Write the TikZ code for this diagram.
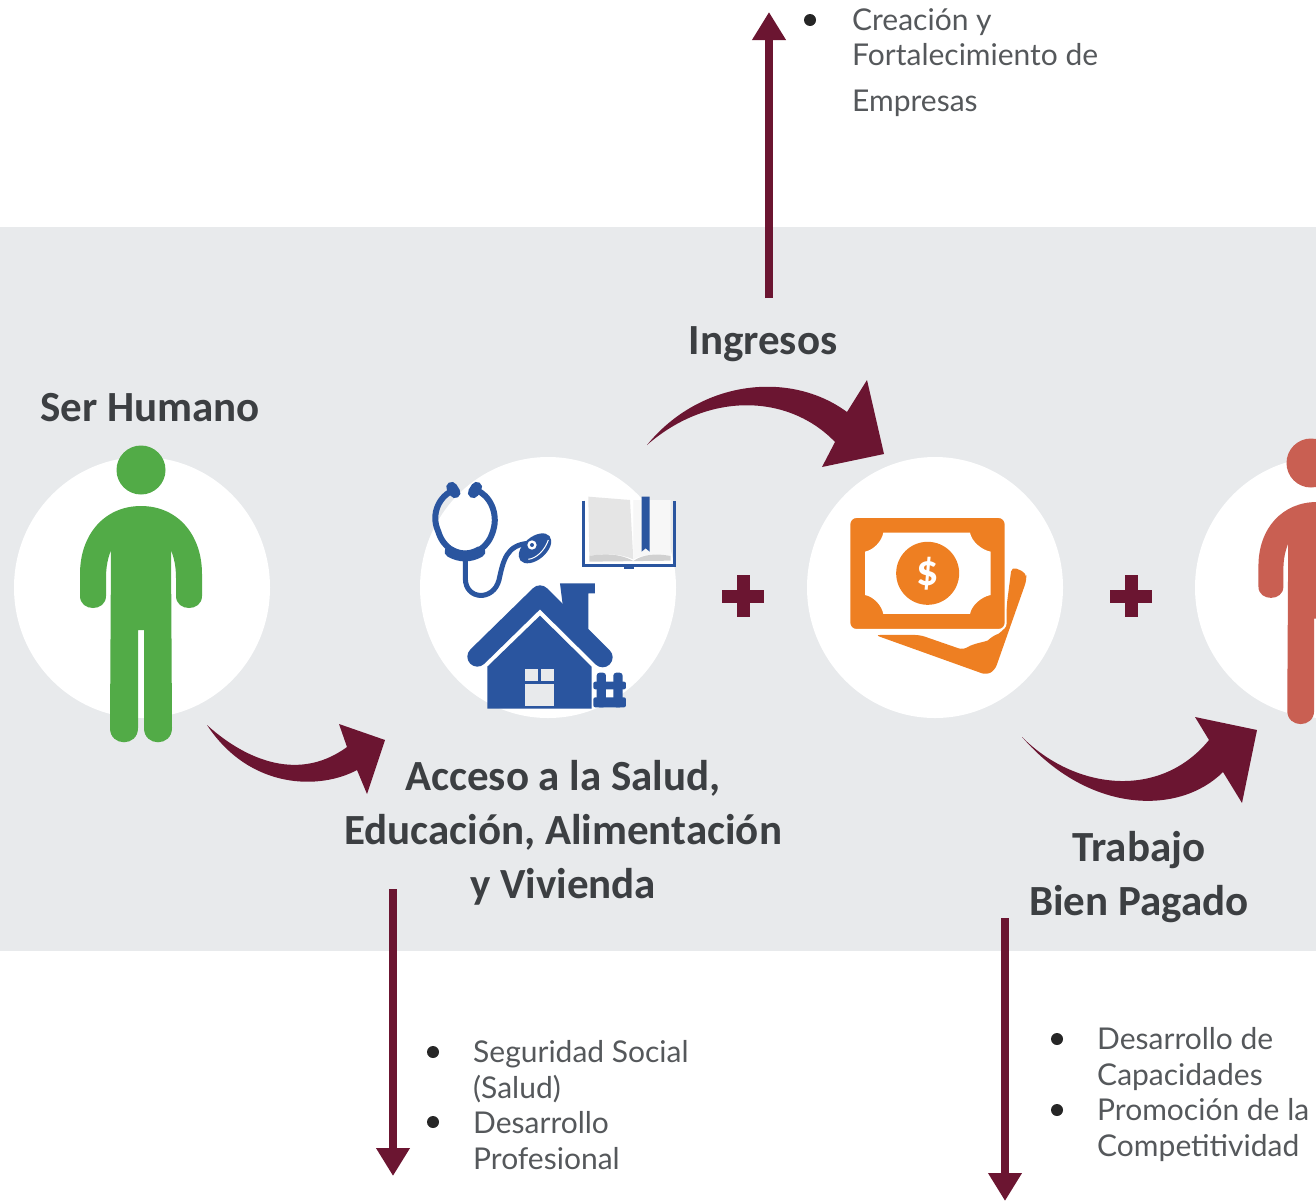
\documentclass[tikz,border=0pt]{standalone}
\usepackage{fontspec}
\setmainfont{Carlito}
\newfontfamily\listfont{Lato}
\usetikzlibrary{arrows.meta,shapes.geometric}
\definecolor{bandgray}{HTML}{E8EAEC}
\definecolor{wine}{HTML}{6B1531}
\definecolor{humangreen}{HTML}{52AB47}
\definecolor{humanred}{HTML}{C95F52}
\definecolor{homeblue}{HTML}{2A559F}
\definecolor{cashorange}{HTML}{EE7F22}
\definecolor{labelgray}{HTML}{3C3F42}
\definecolor{listgray}{HTML}{55585B}
% body of a person, centred on x=0, top at y=0
\newcommand{\humanbody}{
(0,0) .. controls (-36,0) and (-61,28) .. (-61,68)
-- (-61,90) .. controls (-61,106) and (-35,106) .. (-35,90)
-- (-35,72) .. controls (-35,60) and (-33,52) .. (-30,44)
-- (-31,222) .. controls (-31,241) and (-3,241) .. (-3,222)
-- (-3,124) -- (3,124) -- (3,222) .. controls (3,241) and (31,241) .. (31,222)
-- (30,44) .. controls (33,52) and (35,60) .. (35,72)
-- (35,90) .. controls (35,106) and (61,106) .. (61,90)
-- (61,68) .. controls (61,28) and (36,0) .. (0,0) -- cycle}
\newcommand{\plusmark}[2]{
\fill[wine] (#1-21,#2-6.5) rectangle (#1+21,#2+6.5);
\fill[wine] (#1-6.5,#2-21) rectangle (#1+6.5,#2+21);}
\begin{document}
\begin{tikzpicture}[x=1pt,y=-1pt]
\tikzstyle{disc}=[ellipse, fill=white, minimum width=256pt, minimum height=261pt, inner sep=0pt]
\tikzstyle{head}=[circle, minimum size=49pt, inner sep=0pt]
\tikzstyle{title}=[text=labelgray, font=\bfseries\fontsize{43}{54}\selectfont, align=center, inner sep=0pt]
\tikzstyle{listing}=[text=listgray, anchor=north west, align=left, inner sep=0pt, font=\listfont\fontsize{30}{35.4}\selectfont]
\tikzstyle{dot}=[circle, fill=black!85, minimum size=12pt, inner sep=0pt]
\tikzstyle{bar}=[wine, line width=8pt, -{Triangle[length=28pt,width=32pt]}]
\useasboundingbox (0,0) rectangle (1316,1202);
\fill[bandgray] (0,227) rectangle (1316,951);

\node[disc] (humanDisc) at (142,587.5) {};
\node[disc] (homeDisc) at (548,587.5) {};
\node[disc] (cashDisc) at (935,587.5) {};
\node[disc] (workDisc) at (1323,587.5) {};

% green person
\node[head, fill=humangreen] (greenHead) at (141,470) {};
\fill[humangreen, shift={(141,506)}] \humanbody;

% red person
\node[head, fill=humanred] (redHead) at (1311,463) {};
\fill[humanred, shift={(1317,502)}, yscale=0.94, xscale=0.96] \humanbody;

% health, book, house
\begin{scope}[shift={(400,450)},x=0.3333pt,y=-0.3333pt]
\draw[homeblue, line width=6pt] (163,120) .. controls (120,135) and (90,190) .. (115,245)
.. controls (130,295) and (170,312) .. (196,312) .. controls (225,312) and (265,295) .. (280,240)
.. controls (295,190) and (270,135) .. (228,120);
\draw[homeblue, line width=11pt, line cap=round] (150,305) .. controls (180,322) and (210,322) .. (240,305);
\draw[homeblue, line width=5pt] (196,312) -- (196,385) .. controls (196,450) and (280,455) .. (297,390)
.. controls (310,330) and (320,285) .. (385,280);
\draw[homeblue, line width=11pt, line cap=round] (155,112) -- (165,128);
\draw[homeblue, line width=11pt, line cap=round] (230,112) -- (220,128);
\fill[homeblue, rotate around={40:(405,295)}] (405,295) ellipse (57 and 34);
\fill[white] (396,285) circle (14);
\fill[homeblue] (396,285) circle (6);
\draw[white, line width=1pt] (385,328) .. controls (410,325) and (435,300) .. (445,270);
% book
\draw[homeblue, line width=3pt] (551,152) -- (551,346) -- (825,346) -- (825,152);
\fill[homeblue] (672,346) rectangle (702,358);
\fill[black!10] (565,140) -- (690,150) -- (700,328) .. controls (660,310) and (610,310) .. (568,318) -- cycle;
\fill[black!3] (700,328) -- (700,150) -- (812,150) -- (812,318) .. controls (770,310) and (730,312) .. (700,328) -- cycle;
\fill[black!18] (568,318) .. controls (610,310) and (660,310) .. (700,333) .. controls (730,312) and (770,310) .. (812,318) -- (812,332) -- (568,335) -- cycle;
\fill[homeblue] (725,140) -- (749,140) -- (749,305) -- (737,295) -- (725,305) -- cycle;
% house
\fill[homeblue] (480,400) -- (585,400) -- (585,430) -- (565,430) -- (565,560) -- (490,480) -- cycle;
\draw[homeblue, line width=20pt, line cap=round, line join=round] (232,620) -- (420,436) -- (608,622);
\fill[homeblue] (262,650) -- (420,497) -- (575,650) -- (575,776) -- (262,776) -- cycle;
\fill[bandgray] (375,657) rectangle (415,692);
\fill[bandgray] (423,657) rectangle (462,692);
\fill[bandgray] (375,702) rectangle (462,768);
\fill[homeblue, rounded corners=3pt] (590,668) rectangle (618,772);
\fill[homeblue, rounded corners=3pt] (640,668) rectangle (668,772);
\fill[homeblue, rounded corners=2pt] (580,695) rectangle (678,718);
\fill[homeblue, rounded corners=2pt] (580,742) rectangle (678,772);
\end{scope}

% money
\begin{scope}[shift={(800,370)},x=0.3333pt,y=-0.3333pt]
\fill[cashorange, rounded corners=5pt] (635,590) -- (678,608) -- (680,630) -- (585,900) -- (560,915) -- (225,795) -- (360,795) -- (490,840)
.. controls (520,820) and (560,815) .. (575,800) -- (610,785) -- cycle;
\fill[cashorange, draw=white, line width=2pt, rounded corners=7pt] (148,441) rectangle (617,780);
\fill[white] (250,488) -- (510,488) .. controls (515,515) and (545,540) .. (572,545) -- (572,675)
.. controls (545,680) and (515,705) .. (510,732) -- (250,732) .. controls (245,705) and (220,680) .. (195,675)
-- (195,545) .. controls (220,540) and (245,515) .. (250,488) -- cycle;
\node[circle, fill=cashorange, minimum size=63pt, inner sep=0pt, text=white, font=\bfseries\fontsize{44}{44}\selectfont] (dollar) at (383,610) {\$};
\end{scope}

\plusmark{743}{596}
\plusmark{1131}{596}

% curved arrows
\fill[wine] (207,725) .. controls (240,755) and (295,785) .. (347,747) -- (339,724) -- (385,740) -- (367,794) -- (357,770)
.. controls (320,790) and (250,790) .. (207,725) -- cycle;
\fill[wine] (647,445) .. controls (700,380) and (790,370) .. (847,412) -- (867,380) -- (884,454) -- (822,467) -- (835,442)
.. controls (790,395) and (710,390) .. (647,445) -- cycle;
\fill[wine] (1022,737) .. controls (1075,790) and (1160,800) .. (1209,740) -- (1195,717) -- (1257,730) -- (1242,803) -- (1223,772)
.. controls (1180,815) and (1090,815) .. (1022,737) -- cycle;

% labels
\node[title] (serHumano) at (150,408) {Ser Humano};
\node[title] (ingresos) at (763,344) {Ingresos};
\node[title] (acceso) at (563,833) {Acceso a la Salud,\\Educación, Alimentación\\y Vivienda};
\node[title] (trabajo) at (1139,877) {Trabajo\\Bien Pagado};

% straight arrows
\coordinate (ingresosFoot) at (769,298);
\coordinate (ingresosTip) at (769,12);
\coordinate (accesoFoot) at (393,889);
\coordinate (accesoTip) at (393,1176);
\coordinate (trabajoFoot) at (1005,918);
\coordinate (trabajoTip) at (1005,1201);
\draw[bar] (ingresosFoot) -- (ingresosTip);
\draw[bar] (accesoFoot) -- (accesoTip);
\draw[bar] (trabajoFoot) -- (trabajoTip);

% lists
\node[dot] (dotA) at (810,20) {};
\node[listing] (listA) at (852,8.5) {Creación y\\Fortalecimiento de\\[10pt]Empresas};
\node[dot] (dotB1) at (433,1052) {};
\node[dot] (dotB2) at (433,1122) {};
\node[listing] (listB) at (473,1040.5) {Seguridad Social\\(Salud)\\Desarrollo\\Profesional};
\node[dot] (dotC1) at (1057,1039) {};
\node[dot] (dotC2) at (1057,1110) {};
\node[listing] (listC) at (1097,1027.5) {Desarrollo de\\Capacidades\\Promoción de la\\Competitividad};
\end{tikzpicture}
\end{document}
